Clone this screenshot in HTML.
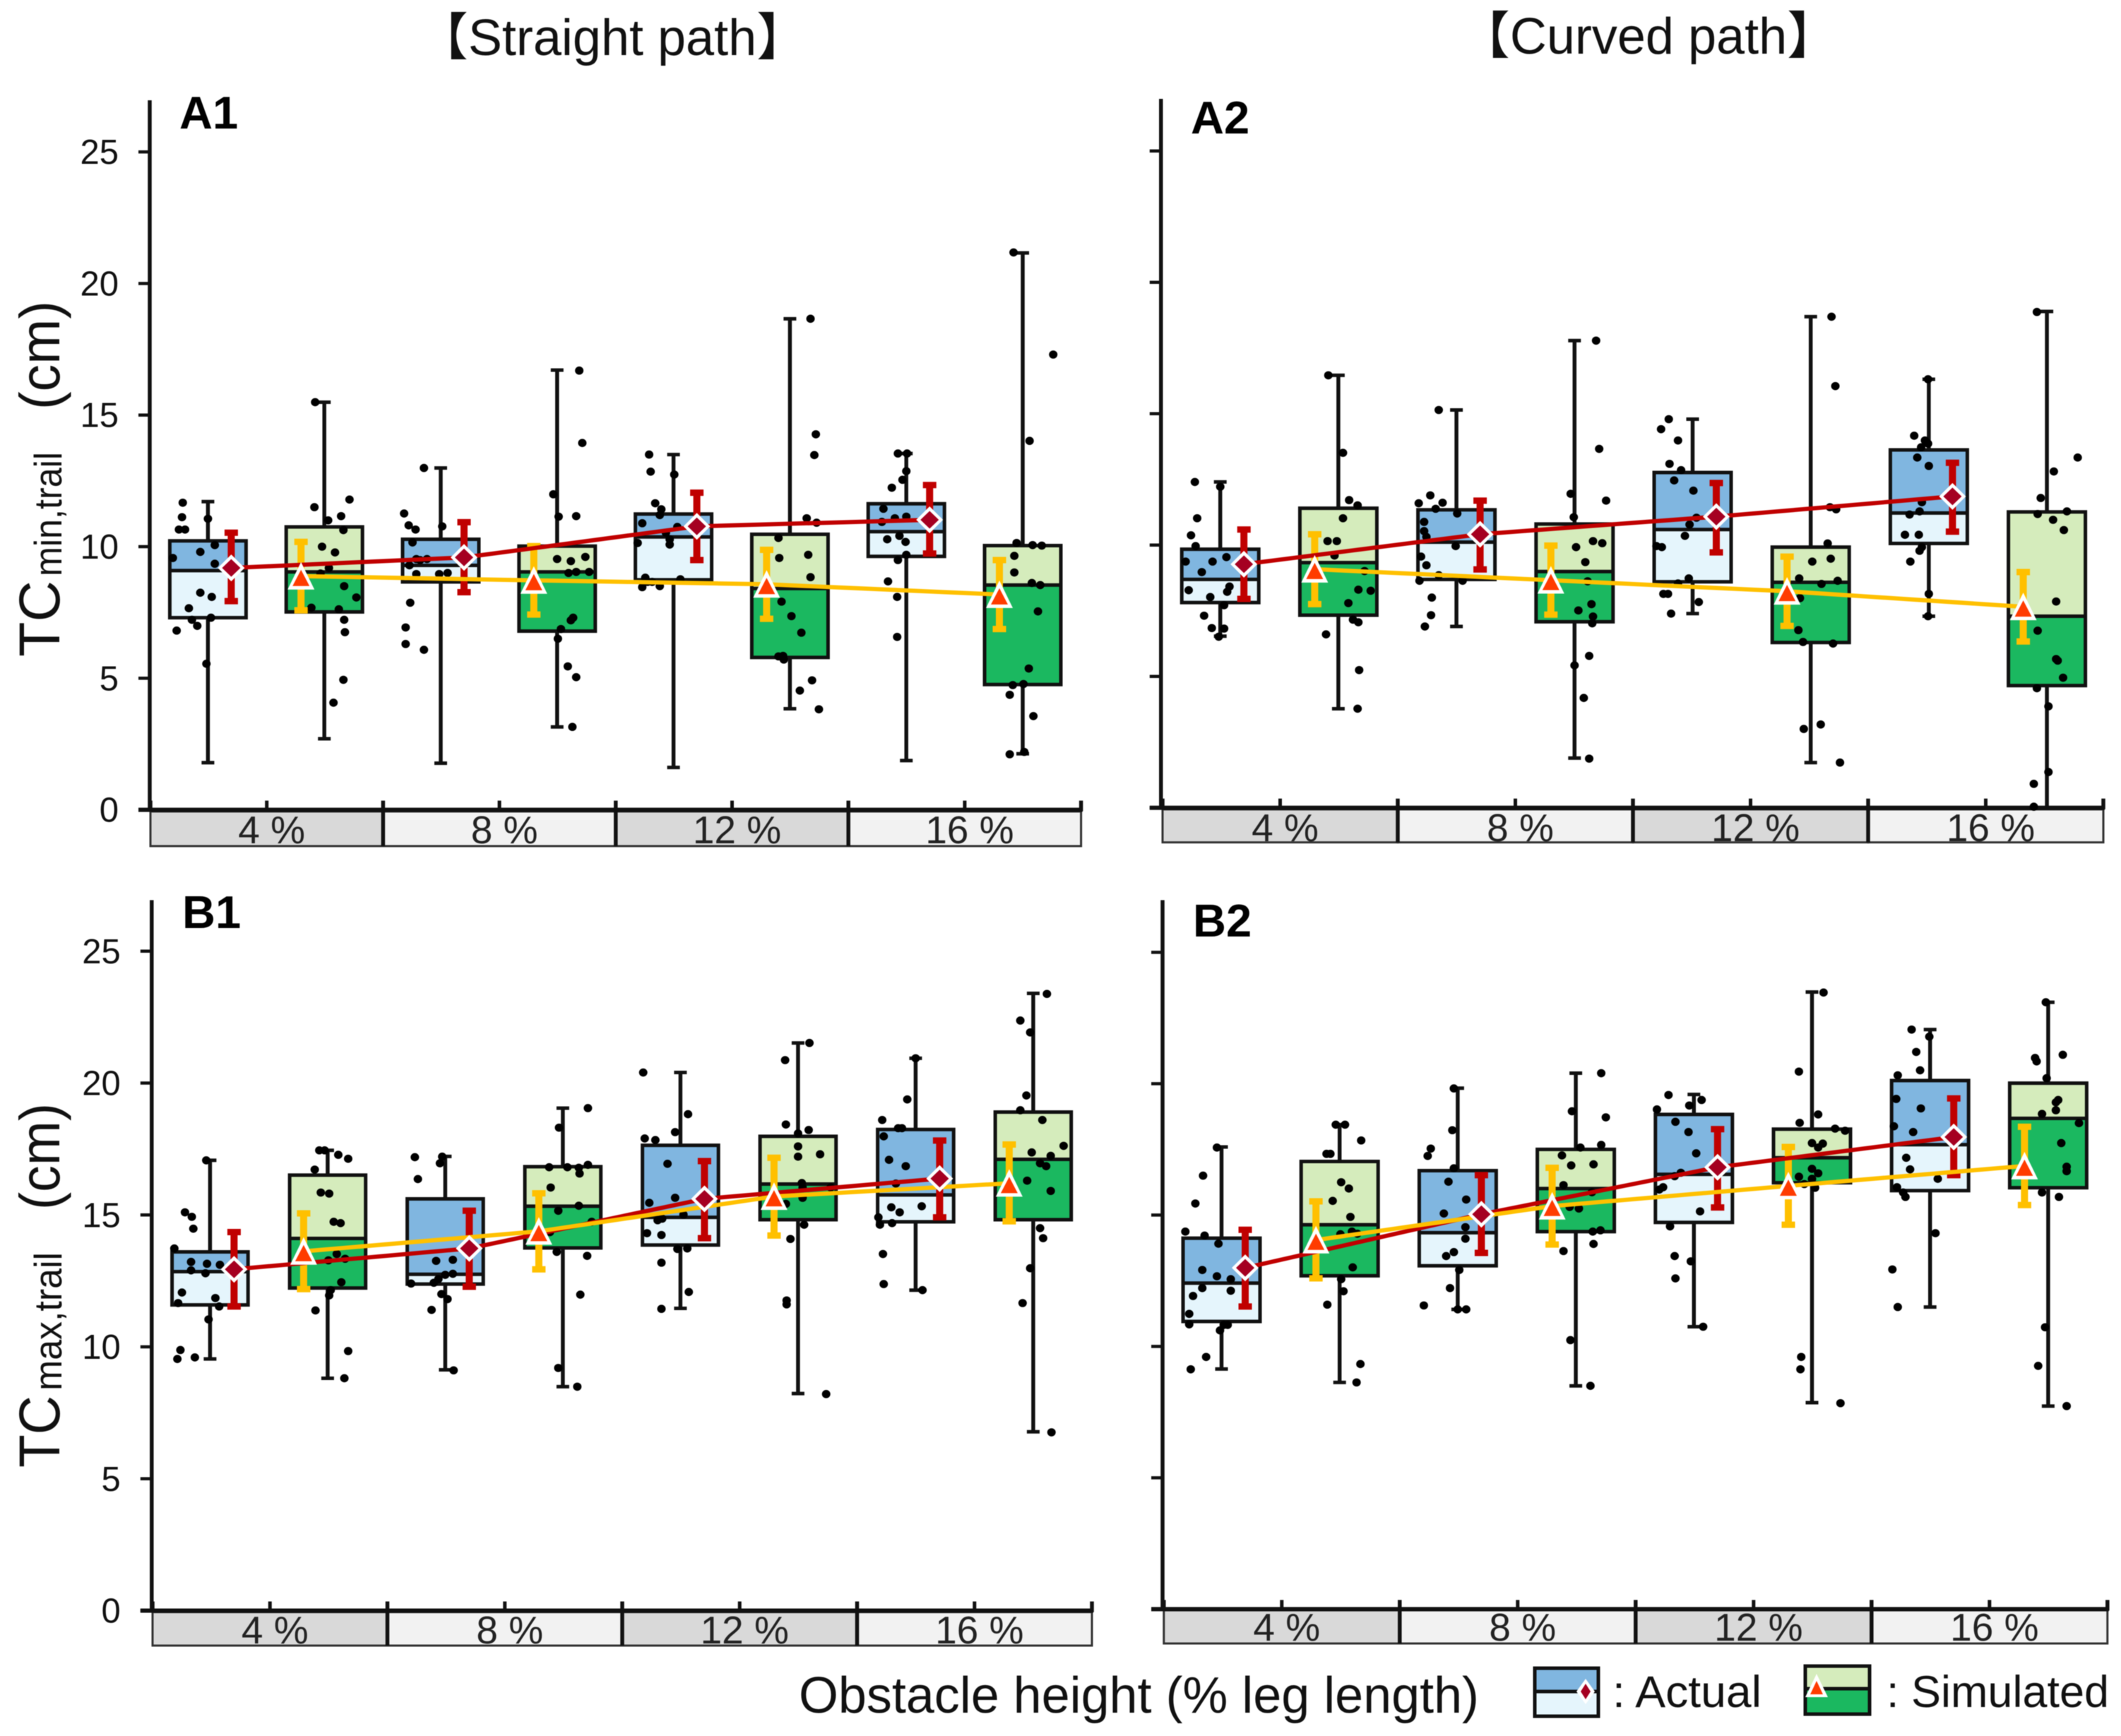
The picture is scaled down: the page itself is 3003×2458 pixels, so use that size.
<!DOCTYPE html>
<html lang="en">
<head>
<meta charset="utf-8">
<title>Toe clearance box plots</title>
<style>
html,body{margin:0;padding:0;background:#fff;}
svg{display:block;font-family:"Liberation Sans","Noto Sans CJK JP",sans-serif;filter:blur(0.6px);}
</style>
</head>
<body>
<svg id="chart" xmlns="http://www.w3.org/2000/svg" width="3003" height="2458" viewBox="0 0 3003 2458">
<rect x="0" y="0" width="3003" height="2458" fill="#fff"/>
<text x="867" y="78" font-size="72" text-anchor="middle" fill="#111">【Straight path】</text>
<text x="2334" y="76" font-size="72" text-anchor="middle" fill="#111">【Curved path】</text>
<text x="254" y="182" font-size="65" font-weight="bold" fill="#000">A1</text>
<text x="1686" y="189" font-size="65" font-weight="bold" fill="#000">A2</text>
<text x="258" y="1314" font-size="65" font-weight="bold" fill="#000">B1</text>
<text x="1689" y="1326" font-size="65" font-weight="bold" fill="#000">B2</text>
<g transform="translate(84 930) rotate(-90)" fill="#111">
<text x="0" y="0" font-size="82" textLength="108" lengthAdjust="spacingAndGlyphs">TC</text>
<text x="114" y="3" font-size="55" textLength="176" lengthAdjust="spacingAndGlyphs">min,trail</text>
<text x="350" y="0" font-size="80" textLength="154" lengthAdjust="spacingAndGlyphs">(cm)</text>
</g>
<g transform="translate(84 2078) rotate(-90)" fill="#111">
<text x="0" y="0" font-size="82" textLength="102" lengthAdjust="spacingAndGlyphs">TC</text>
<text x="109" y="3" font-size="55" textLength="196" lengthAdjust="spacingAndGlyphs">max,trail</text>
<text x="365" y="0" font-size="80" textLength="151" lengthAdjust="spacingAndGlyphs">(cm)</text>
</g>
<g id="panels"></g>
<g>
<text x="1131" y="2425" font-size="72" fill="#111" textLength="963" lengthAdjust="spacingAndGlyphs">Obstacle height (% leg length)</text>
<g>
<rect x="2173" y="2362" width="90" height="33" fill="#80b6e0"/>
<rect x="2173" y="2395" width="90" height="35" fill="#e5f5fc"/>
<rect x="2173" y="2362" width="90" height="68" fill="none" stroke="#111" stroke-width="5"/>
<line x1="2173" y1="2395" x2="2263" y2="2395" stroke="#111" stroke-width="5"/>
<polygon points="2245,2377 2258,2395 2245,2413 2232,2395" fill="#fff"/>
<polygon points="2245,2384 2252,2395 2245,2406 2238,2395" fill="#a50021"/>
<text x="2283" y="2417" font-size="63" fill="#111" textLength="211" lengthAdjust="spacingAndGlyphs">: Actual</text>
</g>
<g>
<rect x="2556" y="2359" width="91" height="32" fill="#d5ecbc"/>
<rect x="2556" y="2391" width="91" height="36" fill="#1bb860"/>
<rect x="2556" y="2359" width="91" height="68" fill="none" stroke="#111" stroke-width="5"/>
<line x1="2556" y1="2391" x2="2647" y2="2391" stroke="#111" stroke-width="5"/>
<polygon points="2572,2370 2588,2403 2556,2403" fill="#fff"/>
<polygon points="2572,2380 2581,2399 2563,2399" fill="#ff3c00"/>
<text x="2671" y="2417" font-size="63" fill="#111" textLength="315" lengthAdjust="spacingAndGlyphs">: Simulated</text>
</g>
</g>
</svg>
<script>
// Shared axis data
const categories = ['4 %', '8 %', '12 %', '16 %'];
const yTicks = [0, 5, 10, 15, 20, 25];
const yTickLabels = ['0', '5', '10', '15', '20', '25'];

// A1: boxes alternate actual, simulated across the four heights
const a1BoxTop = [10.22, 10.75, 10.28, 10.02, 11.24, 10.47, 11.63, 10.04];
const a1Median = [9.09, 9.04, 9.29, 9.04, 10.37, 8.41, 10.57, 8.54];
const a1BoxBottom = [7.30, 7.52, 8.66, 6.79, 8.74, 5.79, 9.63, 4.76];
const a1WhiskerHigh = [11.71, 15.49, 12.99, 16.71, 13.50, 18.66, 13.54, 21.16];
const a1WhiskerLow = [1.79, 2.70, 1.77, 3.15, 1.61, 3.84, 1.87, 2.13];
const a1ActualMean = [9.19, 9.59, 10.77, 11.02];
const a1ActualHigh = [10.53, 10.93, 12.05, 12.34];
const a1ActualLow = [7.93, 8.27, 9.49, 9.74];
const a1SimMean = [8.88, 8.72, 8.57, 8.18];
const a1SimHigh = [10.18, 10.02, 9.88, 9.49];
const a1SimLow = [7.58, 7.42, 7.26, 6.87];
const a1Samples = [
[[-.33,11.67],[-.34,11.12],[-.38,10.65],[-.30,10.65],[0,11.06],[-.46,9.57],[-.10,9.80],[.09,10.06],[.09,9.35],[-.10,8.25],[.05,8.09],[-.25,7.66],[-.21,7.22],[-.14,6.99],[.04,7.30],[-.41,6.81],[-.02,5.55]],
[[-.12,15.49],[-.13,11.50],[.05,11.0],[.22,11.16],[.33,11.79],[.25,10.63],[-.03,10.0],[.14,9.78],[.06,9.19],[-.05,8.98],[.26,8.50],[.42,8.07],[-.17,7.68],[.19,7.62],[.26,7.22],[.27,6.75],[.25,4.94],[.12,4.07]],
[[-.22,12.99],[-.48,11.26],[-.42,10.81],[-.33,10.65],[.02,10.77],[-.37,10.16],[-.41,9.29],[-.32,9.53],[-.18,9.53],[-.27,9.49],[-.32,8.96],[-.02,8.96],[.09,9.0],[-.40,7.87],[-.46,6.93],[-.46,6.30],[-.22,6.08]],
[[-.05,11.99],[.02,11.14],[0,9.53],[.05,6.87],[.01,6.50],[.29,16.69],[.33,13.94],[.25,11.16],[.18,9.45],[.37,9.61],[.25,9.04],[.15,9.0],[.42,9.04],[.21,7.30],[.18,7.20],[.14,5.45],[.25,5.04],[.20,3.15]],
[[-.32,13.50],[-.30,12.85],[.01,12.74],[-.24,11.65],[-.16,11.42],[-.18,11.20],[-.41,10.89],[.05,10.75],[-.10,10.53],[-.05,10.28],[-.05,10.08],[-.47,10.14],[-.37,8.82],[-.28,8.66],[-.34,8.66],[.09,8.76],[-.41,8.46],[-.18,8.50]],
[[.27,18.66],[.34,14.27],[.32,13.48],[.22,11.08],[.35,10.91],[-.15,10.33],[-.14,9.57],[.24,9.69],[.27,8.84],[-.11,7.91],[.02,7.36],[.15,6.73],[-.15,5.83],[-.09,5.85],[-.08,5.71],[.29,4.92],[.13,4.53],[.38,3.82]],
[[-.11,13.54],[.01,13.54],[0,12.87],[-.05,12.54],[-.19,12.24],[-.30,11.44],[-.32,10.94],[-.15,11.08],[0,11.14],[-.25,10.28],[-.09,10.41],[-.01,10.18],[0,9.69],[-.11,9.49],[-.24,8.68],[-.12,8.09],[-.12,6.57]],
[[-.12,21.18],[.40,17.30],[.09,14.02],[-.08,10.14],[.13,10.06],[.25,10.04],[-.11,9.65],[-.11,9.02],[.12,8.62],[.23,8.54],[.20,7.54],[.08,5.37],[-.13,4.74],[.01,4.78],[-.17,4.37],[.14,3.56],[-.17,2.11],[.02,2.20]]
];

// A2
const a2BoxTop = [9.84, 11.40, 11.34, 10.80, 12.76, 9.92, 13.62, 11.26];
const a2Median = [8.69, 9.33, 10.11, 8.99, 10.59, 8.58, 11.22, 7.29];
const a2BoxBottom = [7.81, 7.33, 8.69, 7.08, 8.60, 6.29, 10.06, 4.65];
const a2WhiskerHigh = [12.40, 16.46, 15.14, 17.78, 14.79, 18.69, 16.31, 18.89];
const a2WhiskerLow = [6.53, 3.77, 6.90, 1.89, 7.39, 1.72, 7.29, 0];
const a2ActualMean = [9.27, 10.41, 11.08, 11.85];
const a2ActualHigh = [10.59, 11.69, 12.36, 13.13];
const a2ActualLow = [7.95, 9.07, 9.72, 10.51];
const a2SimMean = [9.08, 8.66, 8.24, 7.65];
const a2SimHigh = [10.41, 9.98, 9.56, 8.97];
const a2SimLow = [7.75, 7.35, 6.92, 6.33];
const a2Samples = [
[[-.33,12.40],[-.30,11.02],[-.38,10.37],[-.32,9.96],[-.45,9.37],[-.10,9.37],[.08,9.54],[-.24,8.97],[-.41,8.28],[-.13,8.02],[.12,8.42],[.09,8.22],[.05,7.71],[-.21,7.31],[-.11,6.84],[.05,6.82],[-.02,6.51],[0,12.22]],
[[-.13,16.46],[.06,13.51],[.14,11.71],[.25,11.51],[.06,11.02],[-.14,10.15],[-.02,10.15],[-.05,9.60],[.34,9.01],[.26,8.30],[.42,8.26],[.13,7.79],[.19,7.16],[.26,7.06],[-.16,6.60],[.27,5.24],[.25,3.77]],
[[-.23,15.14],[-.34,11.89],[-.49,11.59],[-.18,11.61],[-.27,11.38],[.01,11.20],[-.42,10.88],[-.42,10.53],[-.39,10.31],[-.01,9.96],[-.46,9.56],[-.39,9.23],[-.23,8.85],[-.48,8.64],[.08,8.64],[-.32,8.00],[-.33,7.33],[-.41,6.90]],
[[.28,17.78],[.32,13.66],[-.05,11.95],[.41,11.69],[-.01,11.06],[.24,10.15],[.36,10.07],[.02,9.92],[.14,9.35],[.17,8.62],[.22,7.75],[.05,7.51],[.24,7.28],[.23,7.02],[.19,5.78],[0,5.42],[.12,4.18],[.19,1.87]],
[[-.31,14.79],[-.41,14.41],[-.19,13.98],[-.30,13.09],[-.15,12.85],[-.24,12.46],[.01,12.07],[.05,11.04],[-.04,10.78],[-.10,10.35],[-.47,9.96],[-.40,9.92],[-.05,8.73],[-.19,8.54],[-.38,8.14],[-.32,8.14],[.08,7.83],[-.28,7.39]],
[[.27,18.69],[.32,16.05],[.25,11.44],[.33,11.36],[.22,10.06],[.26,9.48],[.02,9.37],[-.15,8.73],[.14,8.52],[.35,8.64],[-.14,7.98],[-.16,6.76],[-.10,6.31],[.29,6.25],[-.09,3.0],[.13,3.17],[.38,1.72]],
[[-.19,14.16],[-.05,13.98],[-.01,13.86],[-.10,13.72],[-.15,13.33],[0,13.01],[-.09,11.63],[-.12,11.28],[-.25,11.16],[-.31,10.39],[-.13,10.39],[-.09,9.92],[-.12,9.78],[-.24,9.37],[0,8.14],[-.01,7.29],[-.01,16.31]],
[[-.13,18.87],[.40,13.33],[.09,12.80],[-.08,11.79],[-.12,11.18],[.08,10.96],[.26,11.28],[.22,10.57],[.12,7.85],[-.12,6.74],[.12,5.66],[.14,5.60],[.21,4.95],[-.13,4.55],[.02,3.86],[.02,1.36],[-.17,0.91],[-.17,0.04]]
];

// B1
const b1BoxTop = [13.60, 16.51, 15.61, 16.83, 17.64, 17.98, 18.24, 18.90];
const b1Median = [12.85, 14.11, 12.75, 15.33, 14.91, 16.17, 15.76, 17.11];
const b1BoxBottom = [11.59, 12.23, 12.38, 13.75, 13.86, 14.82, 14.74, 14.82];
const b1WhiskerHigh = [17.07, 17.45, 17.22, 19.05, 20.40, 21.52, 20.94, 23.40];
const b1WhiskerLow = [9.54, 8.81, 9.13, 8.49, 11.46, 8.23, 12.15, 6.78];
const b1ActualMean = [12.94, 13.73, 15.61, 16.38];
const b1ActualHigh = [14.35, 15.16, 17.04, 17.82];
const b1ActualLow = [11.53, 12.28, 14.12, 14.91];
const b1SimMean = [13.62, 14.38, 15.70, 16.20];
const b1SimHigh = [15.06, 15.82, 17.17, 17.67];
const b1SimLow = [12.19, 12.94, 14.22, 14.76];
const b1Samples = [
[[-.05,17.07],[-.33,15.10],[-.24,14.93],[-.22,14.48],[-.47,13.73],[-.25,13.22],[-.04,13.15],[.13,13.11],[-.25,12.90],[-.06,12.79],[-.37,12.06],[.07,11.85],[-.42,11.66],[.12,11.53],[-.02,11.04],[-.39,9.88],[-.43,9.54],[-.20,9.60]],
[[-.11,17.45],[-.04,17.45],[.14,17.28],[.27,17.13],[-.17,16.72],[-.09,15.85],[.02,15.81],[.08,14.74],[.17,14.69],[.12,13.52],[.01,13.28],[.23,13.34],[.18,12.45],[.04,12.15],[.02,11.95],[-.16,11.38],[.27,9.84],[.22,8.81]],
[[-.40,17.19],[-.04,17.21],[-.07,16.96],[-.36,16.36],[-.12,13.26],[.10,13.30],[.10,12.77],[0,12.73],[-.09,12.57],[-.45,12.40],[-.15,12.43],[-.05,12.0],[.03,11.81],[-.18,11.40],[.11,9.11]],
[[-.05,18.31],[-.18,16.81],[-.16,16.04],[-.06,15.16],[-.17,14.35],[-.08,13.60],[-.06,9.20],[.33,19.05],[.06,16.81],[.21,16.79],[.33,16.90],[.22,16.57],[.21,15.35],[.38,14.74],[.32,13.45],[.23,11.98],[.19,8.49]],
[[-.49,20.40],[.10,18.82],[-.07,18.14],[-.47,17.90],[-.33,17.84],[-.17,16.94],[-.07,15.65],[-.41,15.46],[.04,15.01],[-.30,14.80],[-.24,14.86],[-.44,14.31],[-.25,14.24],[-.04,13.71],[.09,13.73],[-.25,13.19],[.11,12.08],[-.25,11.44]],
[[.15,21.52],[-.17,20.87],[-.16,18.43],[0,18.09],[.14,18.22],[0,17.60],[0,17.21],[.29,17.30],[.05,16.21],[.06,16.04],[.06,15.65],[.43,16.04],[-.16,15.42],[.08,14.63],[-.10,14.09],[-.15,11.76],[-.15,11.61],[.37,8.21]],
[[-.11,19.38],[-.44,18.60],[-.23,18.29],[-.18,18.29],[-.42,17.98],[-.35,17.09],[-.13,16.85],[-.26,16.19],[-.32,15.29],[-.21,15.10],[.08,15.33],[-.49,14.91],[-.47,14.63],[-.31,14.69],[-.43,13.52],[-.42,12.38],[.09,12.15],[0,20.94]],
[[.18,23.38],[-.17,22.37],[-.04,21.92],[-.09,19.53],[-.17,18.97],[.12,18.60],[.40,17.62],[-.02,17.37],[.23,17.24],[.09,16.96],[.17,16.85],[-.08,16.30],[.23,15.91],[.09,14.50],[.13,14.12],[-.04,12.98],[-.14,11.66],[.24,6.76]]
];

// B2
const b2BoxTop = [14.12, 17.04, 16.69, 17.50, 18.83, 18.27, 20.12, 20.02];
const b2Median = [12.41, 14.63, 14.33, 16.01, 16.55, 17.18, 17.68, 18.68];
const b2BoxBottom = [10.95, 12.69, 13.07, 14.37, 14.72, 16.23, 15.93, 16.04];
const b2WhiskerHigh = [17.59, 18.44, 19.83, 20.40, 19.59, 23.49, 22.06, 23.10];
const b2WhiskerLow = [9.14, 8.63, 11.41, 8.50, 10.75, 7.86, 11.50, 7.73];
const b2ActualMean = [12.99, 15.03, 16.82, 17.97];
const b2ActualHigh = [14.44, 16.52, 18.27, 19.44];
const b2ActualLow = [11.52, 13.56, 15.29, 16.52];
const b2SimMean = [14.05, 15.34, 16.11, 16.87];
const b2SimHigh = [15.52, 16.80, 17.59, 18.36];
const b2SimLow = [12.59, 13.88, 14.63, 15.38];
const b2Samples = [
[[-.06,17.57],[-.24,16.50],[-.34,15.44],[-.47,14.37],[-.22,14.22],[-.04,13.91],[-.25,12.91],[-.06,12.67],[.12,12.56],[-.25,12.22],[.12,12.12],[-.37,11.92],[-.42,11.24],[-.42,10.84],[.03,10.82],[.08,10.82],[-.02,10.61],[-.20,9.60],[-.40,9.13]],
[[-.05,18.44],[.07,18.44],[.28,17.84],[-.17,17.33],[-.12,17.33],[.02,16.25],[.12,16.01],[-.09,15.54],[.14,14.93],[.01,14.27],[.16,14.37],[.23,14.29],[.17,13.01],[.02,12.56],[.05,12.10],[-.16,11.59],[.27,9.33],[.22,8.63]],
[[-.05,19.82],[-.07,18.23],[-.35,17.53],[-.39,17.25],[-.05,16.78],[-.12,16.27],[.11,15.59],[-.18,15.06],[.10,14.54],[.10,14.10],[-.05,13.59],[-.15,13.44],[.02,12.91],[-.10,12.22],[-.44,11.56],[0,11.41],[.11,11.41]],
[[.33,20.40],[-.05,18.95],[.39,18.72],[.06,17.57],[.33,17.67],[-.18,17.27],[-.06,16.89],[.23,16.93],[-.16,16.14],[.21,15.87],[-.08,15.31],[.04,15.25],[.22,14.37],[.32,14.42],[.23,13.90],[-.16,13.63],[-.07,10.24],[.19,8.50]],
[[-.33,19.57],[.10,19.38],[-.48,19.02],[-.06,19.17],[-.24,18.55],[-.07,18.16],[.03,17.35],[-.17,16.61],[-.25,16.48],[-.40,16.06],[-.45,15.97],[.08,15.14],[-.31,14.57],[-.25,13.44],[-.04,13.24],[-.24,12.59],[.12,10.75]],
[[.15,23.47],[-.17,20.46],[.08,18.83],[-.16,18.51],[.30,18.29],[.43,18.21],[0,17.74],[.14,17.72],[.08,17.57],[0,16.76],[.08,16.59],[-.17,16.46],[0,16.38],[-.10,16.18],[.04,16.04],[-.14,9.60],[-.15,9.13],[.37,7.84]],
[[-.24,22.06],[-.01,21.79],[-.18,21.21],[-.13,20.51],[-.42,20.32],[-.44,19.42],[-.12,19.06],[-.47,18.38],[-.22,18.16],[-.31,17.18],[-.26,16.74],[.10,16.38],[-.43,16.06],[-.35,15.86],[-.32,15.69],[.07,14.31],[-.49,12.93],[-.42,11.50]],
[[-.03,23.10],[-.17,20.98],[-.15,20.85],[.19,21.10],[-.02,20.21],[.13,19.38],[.10,19.29],[.10,18.99],[-.08,18.85],[.40,18.50],[.17,17.74],[.24,16.84],[.24,16.67],[-.08,15.86],[.14,15.69],[-.04,10.73],[-.13,9.26],[.24,7.73]]
];

const SVG_NS = 'http://www.w3.org/2000/svg';
const panelsRoot = document.getElementById('panels');

function make(tag, attrs, parent) {
  const el = document.createElementNS(SVG_NS, tag);
  for (const key in attrs) el.setAttribute(key, attrs[key]);
  parent.appendChild(el);
  return el;
}

function drawPanel(id, frame, d) {
  const y = v => frame.y0 - v * frame.unit;
  const boxX = i => frame.c0 + frame.dc * i;
  const catX = i => frame.catStart + frame.catW * i;
  const actualX = k => boxX(2 * k) + frame.meanOff;
  const simX = k => boxX(2 * k + 1) - frame.meanOff;

  const g = make('g', {}, panelsRoot);
  
  

  // category strip
  categories.forEach((label, i) => {
    const strip = make('rect', {x: catX(i), y: frame.catTop, width: frame.catW, height: frame.catBot - frame.catTop, fill: i % 2 ? '#f2f2f2' : '#d9d9d9', stroke: '#333', 'stroke-width': 3}, g);
    
    
    const text = make('text', {x: catX(i) + frame.catW / 2 + 7, y: frame.labelBase, 'font-size': 55, 'text-anchor': 'middle', fill: '#222'}, g);
    text.textContent = label;
    
    
  });
  // category separators and ticks
  for (let i = 0; i <= categories.length; i++) {
    const sep = make('line', {x1: catX(i), x2: catX(i), y1: y(0) - 13, y2: i === 0 || i === categories.length ? y(0) + 2 : frame.catBot, stroke: '#111', 'stroke-width': 5.5}, g);
    
    
    if (i < categories.length) {
      const tick = make('line', {x1: catX(i) + frame.catW / 2, x2: catX(i) + frame.catW / 2, y1: y(0) - 13, y2: y(0), stroke: '#111', 'stroke-width': 5}, g);
      
      
    }
  }
  // axes
  const xAxis = make('line', {x1: frame.axisX - 16, x2: catX(categories.length) + 2, y1: y(0), y2: y(0), stroke: '#111', 'stroke-width': 6}, g);
  
  
  const yAxis = make('line', {x1: frame.axisX, x2: frame.axisX, y1: frame.top, y2: y(0) + 2, stroke: '#111', 'stroke-width': 5.5}, g);
  
  
  yTicks.forEach((v, i) => {
    const tick = make('line', {x1: frame.axisX - 16, x2: frame.axisX, y1: y(v), y2: y(v), stroke: '#111', 'stroke-width': 4.5}, g);
    
    
    if (frame.showYLabels) {
      const text = make('text', {x: frame.axisX - 44, y: y(v) + 17, 'font-size': 49, 'text-anchor': 'end', fill: '#111'}, g);
      text.textContent = yTickLabels[i];
      
      
    }
  });
  // boxes
  d.boxTop.forEach((top, i) => {
    const cx = boxX(i), hw = frame.boxW / 2;
    const actual = i % 2 === 0;
    const whisker = make('line', {x1: cx, x2: cx, y1: y(d.whiskerHigh[i]), y2: y(d.whiskerLow[i]), stroke: '#111', 'stroke-width': 5.5}, g);
    
    
    [d.whiskerHigh[i], d.whiskerLow[i]].forEach(v => {
      const cap = make('line', {x1: cx - 9, x2: cx + 9, y1: y(v), y2: y(v), stroke: '#111', 'stroke-width': 5}, g);
      
      
    });
    const upper = make('rect', {x: cx - hw, y: y(top), width: frame.boxW, height: y(d.median[i]) - y(top), fill: actual ? '#80b6e0' : '#d5ecbc'}, g);
    
    
    const lower = make('rect', {x: cx - hw, y: y(d.median[i]), width: frame.boxW, height: y(d.boxBottom[i]) - y(d.median[i]), fill: actual ? '#e5f5fc' : '#1bb860'}, g);
    
    
    const outline = make('rect', {x: cx - hw, y: y(top), width: frame.boxW, height: y(d.boxBottom[i]) - y(top), fill: 'none', stroke: '#111', 'stroke-width': 5}, g);
    
    
    const median = make('line', {x1: cx - hw, x2: cx + hw, y1: y(d.median[i]), y2: y(d.median[i]), stroke: '#111', 'stroke-width': 5}, g);
    
    
  });
  // raw samples
  d.samples.forEach((pts, i) => {
    pts.forEach(p => {
      const dot = make('ellipse', {cx: boxX(i) + p[0] * frame.boxW, cy: y(p[1]), rx: 6, ry: 5.8, fill: '#000'}, g);
      
      
    });
  });
  // error bars
  function errorBar(x, hi, lo, color) {
    const stem = make('line', {x1: x, x2: x, y1: y(hi), y2: y(lo), stroke: color, 'stroke-width': 10}, g);
    
    
    [hi, lo].forEach(v => {
      const cap = make('line', {x1: x - 9.5, x2: x + 9.5, y1: y(v), y2: y(v), stroke: color, 'stroke-width': 9}, g);
      
      
    });
  }
  d.actualMean.forEach((m, k) => errorBar(actualX(k), d.actualHigh[k], d.actualLow[k], '#c00000'));
  d.simMean.forEach((m, k) => errorBar(simX(k), d.simHigh[k], d.simLow[k], '#ffc000'));
  // mean lines
  const redLine = make('polyline', {points: d.actualMean.map((m, k) => actualX(k) + ',' + y(m)).join(' '), fill: 'none', stroke: '#c00000', 'stroke-width': 6}, g);
  
  
  const yellowLine = make('polyline', {points: d.simMean.map((m, k) => simX(k) + ',' + y(m)).join(' '), fill: 'none', stroke: '#ffc000', 'stroke-width': 6}, g);
  
  
  // mean markers
  d.actualMean.forEach((m, k) => {
    const x = actualX(k), v = y(m);
    const halo = make('polygon', {points: `${x},${v - 19} ${x + 19},${v} ${x},${v + 19} ${x - 19},${v}`, fill: '#fff'}, g);
    
    
    const mark = make('polygon', {points: `${x},${v - 12.5} ${x + 13},${v} ${x},${v + 12.5} ${x - 13},${v}`, fill: '#a50021'}, g);
    
    
  });
  d.simMean.forEach((m, k) => {
    const x = simX(k), v = y(m);
    const halo = make('polygon', {points: `${x},${v - 20} ${x + 19},${v + 19} ${x - 19},${v + 19}`, fill: '#fff'}, g);
    
    
    const mark = make('polygon', {points: `${x},${v - 9} ${x + 12},${v + 14} ${x - 12},${v + 14}`, fill: '#ff3c00'}, g);
    
    
  });
}

drawPanel('a1',
  {axisX: 212, y0: 1146.6, unit: 37.26, top: 142, c0: 294.4, dc: 164.8, boxW: 108, meanOff: 33, catStart: 213, catW: 329.4, catTop: 1149, catBot: 1198, labelBase: 1194, showYLabels: true},
  {boxTop: a1BoxTop, median: a1Median, boxBottom: a1BoxBottom, whiskerHigh: a1WhiskerHigh, whiskerLow: a1WhiskerLow, actualMean: a1ActualMean, actualHigh: a1ActualHigh, actualLow: a1ActualLow, simMean: a1SimMean, simHigh: a1SimHigh, simLow: a1SimLow, samples: a1Samples});
drawPanel('a2',
  {axisX: 1643.75, y0: 1143.7, unit: 37.2, top: 140, c0: 1727.7, dc: 167.2, boxW: 109, meanOff: 33.5, catStart: 1646, catW: 333, catTop: 1146, catBot: 1192.7, labelBase: 1191, showYLabels: false},
  {boxTop: a2BoxTop, median: a2Median, boxBottom: a2BoxBottom, whiskerHigh: a2WhiskerHigh, whiskerLow: a2WhiskerLow, actualMean: a2ActualMean, actualHigh: a2ActualHigh, actualLow: a2ActualLow, simMean: a2SimMean, simHigh: a2SimHigh, simLow: a2SimLow, samples: a2Samples});
drawPanel('b1',
  {axisX: 214.8, y0: 2280.5, unit: 37.35, top: 1274.5, c0: 297.4, dc: 166.5, boxW: 107.6, meanOff: 34, catStart: 216, catW: 332.5, catTop: 2282.6, catBot: 2330, labelBase: 2327, showYLabels: true},
  {boxTop: b1BoxTop, median: b1Median, boxBottom: b1BoxBottom, whiskerHigh: b1WhiskerHigh, whiskerLow: b1WhiskerLow, actualMean: b1ActualMean, actualHigh: b1ActualHigh, actualLow: b1ActualLow, simMean: b1SimMean, simHigh: b1SimHigh, simLow: b1SimLow, samples: b1Samples});
drawPanel('b2',
  {axisX: 1646, y0: 2278.4, unit: 37.2, top: 1274.5, c0: 1729.5, dc: 167.2, boxW: 109, meanOff: 33.5, catStart: 1647.8, catW: 334, catTop: 2280, catBot: 2327, labelBase: 2323, showYLabels: false},
  {boxTop: b2BoxTop, median: b2Median, boxBottom: b2BoxBottom, whiskerHigh: b2WhiskerHigh, whiskerLow: b2WhiskerLow, actualMean: b2ActualMean, actualHigh: b2ActualHigh, actualLow: b2ActualLow, simMean: b2SimMean, simHigh: b2SimHigh, simLow: b2SimLow, samples: b2Samples});
</script>
</body>
</html>
